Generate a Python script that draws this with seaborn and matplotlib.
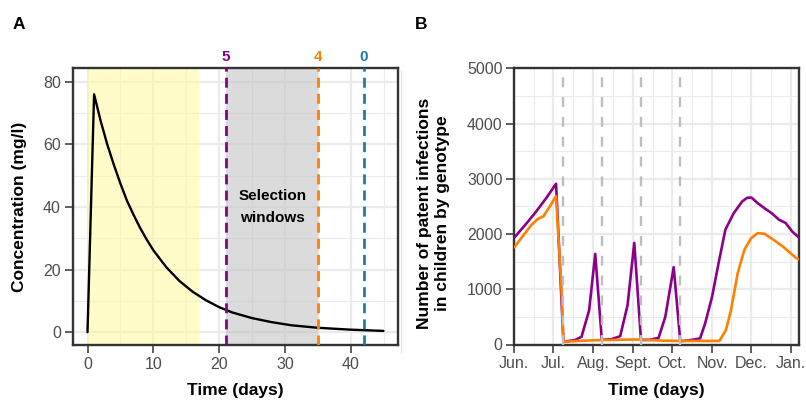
import numpy as np
import pandas as pd
import matplotlib
matplotlib.use("Agg")
import matplotlib.pyplot as plt
import matplotlib.transforms as mtransforms
from matplotlib.lines import Line2D
from matplotlib.ticker import FixedLocator
import seaborn as sns

# ---------------- Data ----------------
# Panel A: drug concentration profile
conc_day = [0, 1, 2, 3, 4, 5, 6, 7, 8, 9, 10, 12, 14, 16, 18, 20, 22, 25, 28, 31, 35, 40, 45]
conc_mgl = [0, 76, 67.5, 60, 53.5, 47.5, 42, 37.5, 33.3, 29.6, 26.2, 20.7, 16.3, 12.9,
            10.2, 8.0, 6.3, 4.5, 3.2, 2.2, 1.4, 0.8, 0.4]
yellow_window = [0, 17]
grey_window = [21, 35]
cutoff_labels = ["5", "4", "0"]
cutoff_days = [21, 35, 42]
cutoff_colors = ["#8B008B", "#FF7F00", "#1F78B4"]
window_text = "Selection\nwindows"

# Panel B: patent infections by genotype (days since 1 June)
purple_day = [0, 9, 17, 25, 32.3, 38, 47, 52, 57.9, 62.6, 67.7, 75, 81.9, 87.6, 92.8, 98,
              105, 111.6, 116.8, 123.3, 128.4, 135, 143.7, 147.6, 153, 158, 163.3, 169.8,
              176.3, 180.1, 183.5, 187.9, 194.3, 199.5, 204.7, 209.9, 215, 220]
purple_n = [1935, 2180, 2410, 2660, 2910, 50, 80, 140, 620, 1640, 85, 95, 150, 710, 1840, 80,
            85, 120, 500, 1400, 60, 75, 110, 380, 865, 1470, 2080, 2380,
            2590, 2655, 2660, 2565, 2455, 2370, 2260, 2200, 2045, 1940]
orange_day = [0, 6.5, 13.5, 18, 22.5, 27.5, 32.3, 36.5, 38, 50, 60, 70, 80, 90, 98, 105,
              115, 125, 135, 145, 158.6, 163.7, 167.6, 172.8, 178, 183.2, 188.3, 193.5,
              198.7, 207.7, 218, 220]
orange_n = [1760, 1960, 2170, 2270, 2320, 2500, 2685, 1000, 50, 65, 75, 80, 85, 90, 90, 80,
            70, 65, 65, 65, 65, 260, 620, 1290, 1715, 1925, 2015, 2005,
            1925, 1775, 1565, 1540]
genotypes = ["purple", "orange"]
genotype_colors = ["#8B008B", "#FF7F00"]
month_labels = ["Jun.", "Jul.", "Aug.", "Sept.", "Oct.", "Nov.", "Dec.", "Jan."]
month_days = [0, 30, 61, 92, 122, 153, 183, 214]
treatment_days = [37.5, 67.8, 98, 128.4]

# ---------------- Style ----------------
sns.set_theme(style="white")
plt.rcParams["font.family"] = ["Liberation Sans", "DejaVu Sans"]
plt.rcParams["axes.axisbelow"] = True
plt.rcParams["text.color"] = "black"

W, H = 806, 403
fig = plt.figure(figsize=(W / 100, H / 100), dpi=100)
fig.patch.set_facecolor("white")


def frac_box(l, t, r, b):
    return [l / W, 1 - b / H, (r - l) / W, (b - t) / H]


axA = fig.add_axes(frac_box(72.7, 68.3, 398.3, 345))
axB = fig.add_axes(frac_box(514.3, 68.3, 798.7, 344.5))

tick_col = "#4D4D4D"
frame_col = "#333333"
grid_col = "#EBEBEB"


def style_axes(ax):
    for s in ax.spines.values():
        s.set_visible(True)
        s.set_color(frame_col)
        s.set_linewidth(1.7)
    ax.tick_params(axis="both", which="major", direction="out", length=6, width=1.1,
                   color=frame_col, labelcolor=tick_col, labelsize=11.5,
                   bottom=True, left=True, top=False, right=False)
    ax.tick_params(axis="x", which="major", pad=2.5)
    ax.tick_params(axis="y", which="major", pad=2.5)
    ax.tick_params(axis="both", which="minor", length=0, bottom=False, left=False)
    ax.grid(True, which="major", color=grid_col, linewidth=1.6)
    ax.grid(True, which="minor", color=grid_col, linewidth=0.8)
    ax.set_facecolor("white")


# ---------------- Panel A ----------------
style_axes(axA)
axA.set_xlim(-2.25, 47.25)
axA.set_ylim(-4.1, 84.3)
axA.xaxis.set_major_locator(FixedLocator([0, 10, 20, 30, 40]))
axA.xaxis.set_minor_locator(FixedLocator([5, 15, 25, 35, 45]))
axA.yaxis.set_major_locator(FixedLocator([0, 20, 40, 60, 80]))
axA.yaxis.set_minor_locator(FixedLocator([10, 30, 50, 70]))

axA.axvspan(yellow_window[0], yellow_window[1], color="#FFFB9E", alpha=0.55, lw=0, zorder=1)
axA.axvspan(grey_window[0], grey_window[1], color="#C4C4C4", alpha=0.6, lw=0, zorder=1)

dfA = pd.DataFrame({"day": conc_day, "conc": conc_mgl})
sns.lineplot(data=dfA, x="day", y="conc", color="black", linewidth=1.7, ax=axA,
             estimator=None, zorder=3)

trA = mtransforms.blended_transform_factory(axA.transData, axA.transAxes)
for lab, d, c in zip(cutoff_labels, cutoff_days, cutoff_colors):
    axA.axvline(d, color=c, linewidth=2.0, dashes=(3.6, 2.2), zorder=4)
    axA.text(d, 1.016, lab, transform=trA, ha="center", va="bottom", color=c,
             fontsize=11, fontweight="bold")

axA.text(28.1, 40, window_text, ha="center", va="center", fontsize=11, color="black",
         fontweight="bold", linespacing=1.7, zorder=5)

axA.set_xlabel("")
axA.set_ylabel("")

# ---------------- Panel B ----------------
style_axes(axB)
axB.set_xlim(0, 220)
axB.set_ylim(0, 5000)
axB.xaxis.set_major_locator(FixedLocator(month_days))
axB.set_xticklabels(month_labels)
mids = [(a + b) / 2 for a, b in zip(month_days[:-1], month_days[1:])]
axB.xaxis.set_minor_locator(FixedLocator(mids))
axB.yaxis.set_major_locator(FixedLocator([0, 1000, 2000, 3000, 4000, 5000]))
axB.yaxis.set_minor_locator(FixedLocator([500, 1500, 2500, 3500, 4500]))

dfB = pd.concat([
    pd.DataFrame({"day": purple_day, "n": purple_n, "genotype": genotypes[0]}),
    pd.DataFrame({"day": orange_day, "n": orange_n, "genotype": genotypes[1]}),
], ignore_index=True)
sns.lineplot(data=dfB, x="day", y="n", hue="genotype", hue_order=genotypes,
             palette=dict(zip(genotypes, genotype_colors)), linewidth=1.9,
             estimator=None, legend=False, ax=axB, zorder=3)

for d in treatment_days:
    axB.axvline(d, color="#BEBEBE", linewidth=1.7, dashes=(4.2, 4.2), zorder=4)

axB.set_xlabel("")
axB.set_ylabel("")

# ---------------- Titles / labels ----------------
fig.text(235.5 / W, 1 - 390 / H, "Time (days)", ha="center", va="center",
         fontsize=12.5, fontweight="bold", color="black")
fig.text(656.5 / W, 1 - 390 / H, "Time (days)", ha="center", va="center",
         fontsize=12.5, fontweight="bold", color="black")
fig.text(20 / W, 1 - 206.5 / H, "Concentration (mg/l)", ha="center", va="center",
         rotation=90, fontsize=12.5, fontweight="bold", color="black")
fig.text(433 / W, 1 - 213 / H, "Number of patent infections\nin children by genotype",
         ha="center", va="center", rotation=90, fontsize=12.5, fontweight="bold",
         linespacing=1.25, color="black")
fig.text(13 / W, 1 - 17 / H, "A", ha="left", va="top", fontsize=12.5, fontweight="bold",
         color="black")
fig.text(415 / W, 1 - 17 / H, "B", ha="left", va="top", fontsize=12.5, fontweight="bold",
         color="black")

# faint separator line between panels
fig.add_artist(Line2D([400.5 / W, 400.5 / W], [1 - 353 / H, 1 - 70 / H],
                      color="#E3E3E3", linewidth=0.8, transform=fig.transFigure))

fig.savefig("out.png", dpi=100, facecolor="white")
